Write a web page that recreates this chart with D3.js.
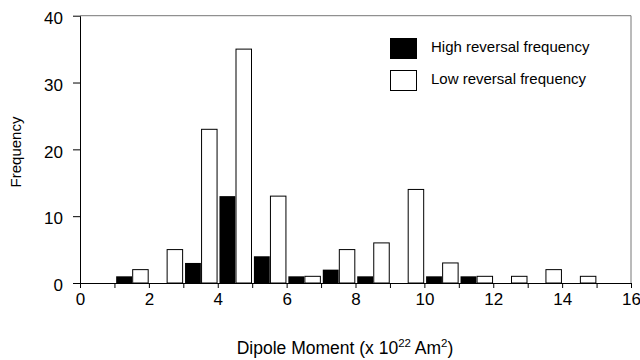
<!DOCTYPE html>
<html>
<head>
<meta charset="utf-8">
<script src="https://cdn.jsdelivr.net/npm/d3@7"></script>
<style>
  html, body { margin: 0; padding: 0; background: #fff; }
  svg { display: block; font-family: "Liberation Sans", Arial, Helvetica, sans-serif; }
</style>
</head>
<body>
<svg id="chart" width="640" height="360"></svg>
<script>
// Histogram bins of dipole moment (x 10^22 Am^2), each bin one unit wide
const binStarts = [1, 2, 3, 4, 5, 6, 7, 8, 9, 10, 11, 12, 13, 14];
const highFreq = [1, 0, 3, 13, 4, 1, 2, 1, 0, 1, 1, 0, 0, 0];
const lowFreq  = [2, 5, 23, 35, 13, 1, 5, 6, 14, 3, 1, 1, 2, 1];
const seriesNames = ["High reversal frequency", "Low reversal frequency"];
const xTicks = [0, 2, 4, 6, 8, 10, 12, 14, 16];
const xMinorTicks = d3.range(0, 17, 1);
const yTicks = [0, 10, 20, 30, 40];

const svg = d3.select("#chart");
const plotL = 80, plotR = 631, plotT = 15.7, plotB = 283;

const x = d3.scaleLinear().domain([0, 16]).range([plotL, plotR]);
const y = d3.scaleLinear().domain([0, 40]).range([plotB, plotT]);

// frame (top and right edges)
svg.append("path")
  .attr("d", `M${plotL},${plotT}H${plotR}V${plotB}`)
  .attr("fill", "none").attr("stroke", "#777").attr("stroke-width", 1);

// bars: high on the left half of each bin, low on the right half
const g = svg.append("g");
g.selectAll("rect.high")
  .data(binStarts.map((b, i) => ({ b, v: highFreq[i] })).filter(d => d.v > 0))
  .join("rect").attr("class", "high")
  .attr("x", d => x(d.b + 0.05))
  .attr("width", d => x(d.b + 0.51) - x(d.b + 0.05))
  .attr("y", d => y(d.v))
  .attr("height", d => y(0) - y(d.v))
  .attr("fill", "#000");

g.selectAll("rect.low")
  .data(binStarts.map((b, i) => ({ b, v: lowFreq[i] })).filter(d => d.v > 0))
  .join("rect").attr("class", "low")
  .attr("x", d => x(d.b + 0.53))
  .attr("width", d => x(d.b + 0.98) - x(d.b + 0.53))
  .attr("y", d => y(d.v))
  .attr("height", d => y(0) - y(d.v))
  .attr("fill", "#fff").attr("stroke", "#000").attr("stroke-width", 1);

// x axis: a tick at every unit, labels every two
const xAxis = svg.append("g").attr("transform", `translate(0,${plotB})`)
  .call(d3.axisBottom(x).tickValues(xMinorTicks).tickSize(5).tickSizeOuter(0)
    .tickFormat(d => xTicks.includes(d) ? d : ""));
xAxis.select(".domain").attr("stroke", "#000");
xAxis.selectAll(".tick line").attr("stroke", "#000");
xAxis.selectAll(".tick text").attr("font-size", 17).attr("fill", "#000")
  .attr("font-family", "Liberation Sans, Arial, sans-serif").attr("dy", "0.82em");

// y axis
const yAxis = svg.append("g").attr("transform", `translate(${plotL},0)`)
  .call(d3.axisLeft(y).tickValues(yTicks).tickSize(7).tickSizeOuter(0));
yAxis.select(".domain").attr("stroke", "#000");
yAxis.selectAll(".tick line").attr("stroke", "#000");
yAxis.selectAll(".tick text").attr("font-size", 17).attr("fill", "#000")
  .attr("font-family", "Liberation Sans, Arial, sans-serif").attr("x", -17).attr("dy", "0.45em");

// axis titles
svg.append("text")
  .attr("transform", "translate(21,152) rotate(-90)")
  .attr("text-anchor", "middle").attr("font-size", 15).attr("fill", "#000")
  .text("Frequency");

const xt = svg.append("text")
  .attr("x", 345).attr("y", 354)
  .attr("text-anchor", "middle").attr("font-size", 17.5).attr("fill", "#000");
xt.append("tspan").text("Dipole Moment (x 10");
xt.append("tspan").attr("font-size", 11.5).attr("dy", -7).text("22");
xt.append("tspan").attr("dy", 7).text(" Am");
xt.append("tspan").attr("font-size", 11.5).attr("dy", -7).text("2");
xt.append("tspan").attr("dy", 7).text(")");

// legend
const legend = svg.append("g");
seriesNames.forEach((name, i) => {
  const yy = 38.5 + i * 32;
  legend.append("rect")
    .attr("x", 390.5).attr("y", yy).attr("width", 26).attr("height", 20)
    .attr("fill", i === 0 ? "#000" : "#fff").attr("stroke", "#000").attr("stroke-width", 1);
  legend.append("text")
    .attr("x", 431).attr("y", yy + 13.5)
    .attr("font-size", 15).attr("fill", "#000")
    .text(name);
});
</script>
</body>
</html>
